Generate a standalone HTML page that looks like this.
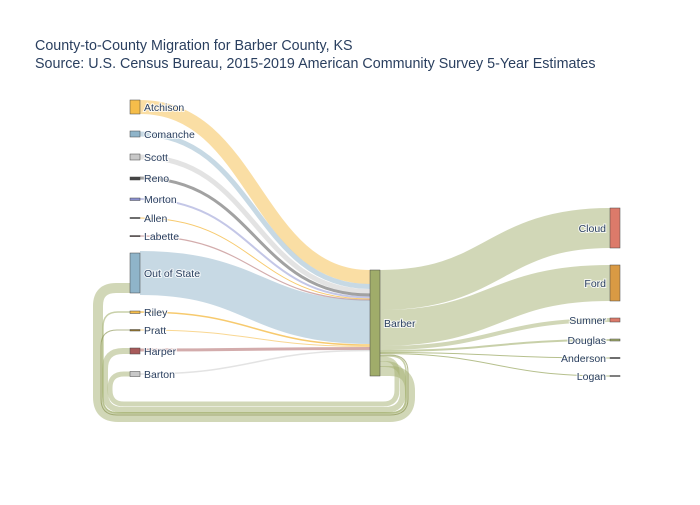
<!DOCTYPE html>
<html><head><meta charset="utf-8"><style>
body{margin:0;background:#fff}
svg text{font-family:"Liberation Sans",sans-serif}
.l{font-size:10.5px;fill:#2a3f5f;paint-order:stroke;stroke:#fff;stroke-width:2px;stroke-opacity:.8}
</style></head><body>
<svg width="700" height="500" xmlns="http://www.w3.org/2000/svg">
<text x="35" y="50" font-size="14.3" fill="#2a3f5f">County-to-County Migration for Barber County, KS</text>
<text x="35" y="68" font-size="14.3" fill="#2a3f5f">Source: U.S. Census Bureau, 2015-2019 American Community Survey 5-Year Estimates</text>
<g fill="none" stroke-linejoin="round">
<path d="M380,371 H390 Q410,371 410,391 V397 Q410,417 390,417 H118 Q98,417 98,397 V306 Q98,288 116,288 H130" stroke="rgba(164,176,112,0.5)" stroke-width="10"/>
<path d="M380,364 H385 Q403,364 403,382 V392 Q403,410 385,410 H123 Q105,410 105,392 V369 Q105,351 123,351 H130" stroke="rgba(164,176,112,0.5)" stroke-width="6"/>
<path d="M380,359 H383 Q397,359 397,373 V390 Q397,404 383,404 H124 Q110,404 110,390 V388 Q110,374 124,374 H130" stroke="rgba(164,176,112,0.5)" stroke-width="5"/>
<path d="M380,356 H390 Q406,356 406,372 V398 Q406,413 390,413 H118 Q103,413 103,398 V327 Q103,312 118,312 H130" stroke="rgba(164,176,112,0.6)" stroke-width="1.5"/>
<path d="M380,355 H390 Q408,355 408,372 V399 Q408,415 390,415 H117 Q101,415 101,399 V346 Q101,330 117,330 H130" stroke="rgba(130,140,70,0.6)" stroke-width="1"/>
<path d="M140,107 C255,107 255,277 370,277" stroke="rgba(245,189,74,0.5)" stroke-width="14"/>
<path d="M140,134 C255,134 255,286.5 370,286.5" stroke="rgba(143,180,201,0.5)" stroke-width="5"/>
<path d="M140,157 C255,157 255,291.5 370,291.5" stroke="rgba(200,200,200,0.5)" stroke-width="5"/>
<path d="M140,178 C255,178 255,295 370,295" stroke="rgba(69,69,69,0.5)" stroke-width="3"/>
<path d="M140,199 C255,199 255,297.5 370,297.5" stroke="rgba(138,143,207,0.5)" stroke-width="2"/>
<path d="M140,218 C255,218 255,299 370,299" stroke="rgba(245,189,74,0.8)" stroke-width="1"/>
<path d="M140,236 C255,236 255,300 370,300" stroke="rgba(168,90,90,0.5)" stroke-width="1.2"/>
<path d="M140,273 C255,273 255,322 370,322" stroke="rgba(143,180,201,0.5)" stroke-width="44"/>
<path d="M140,312 C255,312 255,345 370,345" stroke="rgba(245,189,74,0.8)" stroke-width="1.5"/>
<path d="M140,330 C255,330 255,346.5 370,346.5" stroke="rgba(245,189,74,0.6)" stroke-width="1"/>
<path d="M140,350 C255,350 255,348.5 370,348.5" stroke="rgba(168,90,90,0.5)" stroke-width="3"/>
<path d="M140,374 C255,374 255,350.5 370,350.5" stroke="rgba(200,200,200,0.5)" stroke-width="1.5"/>
<path d="M380,290 C495,290 495,228 610,228" stroke="rgba(164,176,112,0.5)" stroke-width="40"/>
<path d="M380,328 C495,328 495,283 610,283" stroke="rgba(164,176,112,0.5)" stroke-width="36"/>
<path d="M380,348 C495,348 495,320 610,320" stroke="rgba(164,176,112,0.5)" stroke-width="4"/>
<path d="M380,351 C495,351 495,340 610,340" stroke="rgba(164,176,112,0.6)" stroke-width="2"/>
<path d="M380,352.5 C495,352.5 495,358 610,358" stroke="rgba(164,176,112,0.8)" stroke-width="1"/>
<path d="M380,353.5 C495,353.5 495,376 610,376" stroke="rgba(164,176,112,0.8)" stroke-width="1"/>
</g>
<g stroke="#444" stroke-width="0.5">
<rect x="130" y="100" width="10" height="14" fill="#f5bd4a"/>
<rect x="130" y="131" width="10" height="6" fill="#8fb4c9"/>
<rect x="130" y="154" width="10" height="6" fill="#c8c8c8"/>
<rect x="130" y="177" width="10" height="3" fill="#454545"/>
<rect x="130" y="198" width="10" height="2.5" fill="#8a8fcf"/>
<rect x="130" y="217.5" width="10" height="1" fill="#333"/>
<rect x="130" y="235.5" width="10" height="1.2" fill="#7a6a6a"/>
<rect x="130" y="253" width="10" height="40" fill="#8fb4c9"/>
<rect x="130" y="311" width="10" height="2.5" fill="#f5bd4a"/>
<rect x="130" y="329.5" width="10" height="1.5" fill="#9b7a2a"/>
<rect x="130" y="348" width="10" height="6" fill="#a85a5a"/>
<rect x="130" y="371.5" width="10" height="5" fill="#c8c8c8"/>
<rect x="370" y="270" width="10" height="106" fill="#a0ac6a"/>
<rect x="610" y="208" width="10" height="40" fill="#dc7a6a"/>
<rect x="610" y="265" width="10" height="36" fill="#d99a44"/>
<rect x="610" y="318" width="10" height="4" fill="#dc7a6a"/>
<rect x="610" y="339" width="10" height="2" fill="#a0ac6a"/>
<rect x="610" y="357.5" width="10" height="1" fill="#333"/>
<rect x="610" y="375.5" width="10" height="1" fill="#777"/>
</g>
<g class="l">
<text x="144" y="111">Atchison</text>
<text x="144" y="138">Comanche</text>
<text x="144" y="161">Scott</text>
<text x="144" y="182">Reno</text>
<text x="144" y="203">Morton</text>
<text x="144" y="222">Allen</text>
<text x="144" y="240">Labette</text>
<text x="144" y="277">Out of State</text>
<text x="144" y="316">Riley</text>
<text x="144" y="334">Pratt</text>
<text x="144" y="355">Harper</text>
<text x="144" y="378">Barton</text>
<text x="384" y="327">Barber</text>
<g text-anchor="end">
<text x="606" y="232">Cloud</text>
<text x="606" y="287">Ford</text>
<text x="606" y="324">Sumner</text>
<text x="606" y="344">Douglas</text>
<text x="606" y="362">Anderson</text>
<text x="606" y="380">Logan</text>
</g></g>
</svg>
</body></html>
